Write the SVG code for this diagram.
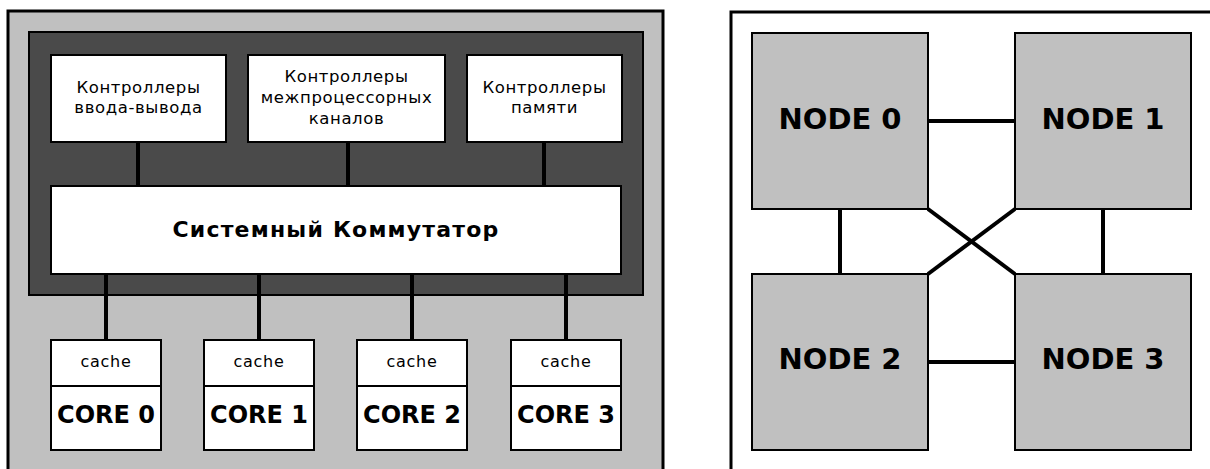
<svg xmlns="http://www.w3.org/2000/svg" width="1210" height="469" viewBox="0 0 1210 469">
<style>
.frame{stroke:#000;stroke-width:3}
.box{fill:#fff;stroke:#000;stroke-width:2}
.node{fill:#c0c0c0;stroke:#000;stroke-width:2}
.wire{stroke:#000;stroke-width:4;fill:none}
.t{font-family:"DejaVu Sans","Liberation Sans",sans-serif;fill:#000;text-anchor:middle}
.ctl{font-size:16.5px;letter-spacing:0.6px}
.cache{font-size:16px;letter-spacing:0.7px}
.core{font-size:24px;font-weight:bold}
.sw{font-size:22px;font-weight:bold;letter-spacing:1.2px}
.nd{font-size:29px;font-weight:bold}
</style>
<rect width="1210" height="469" fill="#fff"/>
<g id="left-panel">
<rect class="frame" x="8" y="11" width="655" height="470" fill="#c0c0c0"/>
<rect x="29" y="32" width="614" height="263" fill="#4a4a4a" stroke="#000" stroke-width="2"/>
</g>
<g id="connectors">
<line class="wire" x1="138" y1="142" x2="138" y2="187"/>
<line class="wire" x1="348" y1="142" x2="348" y2="187"/>
<line class="wire" x1="544" y1="142" x2="544" y2="187"/>
<line class="wire" x1="106" y1="273" x2="106" y2="340"/>
<line class="wire" x1="259" y1="273" x2="259" y2="340"/>
<line class="wire" x1="412" y1="273" x2="412" y2="340"/>
<line class="wire" x1="566" y1="273" x2="566" y2="340"/>
<line class="wire" x1="928" y1="121" x2="1015" y2="121"/>
<line class="wire" x1="928" y1="362" x2="1015" y2="362"/>
<line class="wire" x1="840" y1="209" x2="840" y2="274"/>
<line class="wire" x1="1103" y1="209" x2="1103" y2="274"/>
<line class="wire" x1="928" y1="209" x2="1015" y2="274"/>
<line class="wire" x1="1015" y1="209" x2="928" y2="274"/>
</g>
<g id="ctl-io">
<rect class="box" x="51" y="55" width="175" height="87"/>
<text class="t ctl" x="138.5" y="93">Контроллеры</text>
<text class="t ctl" x="138.5" y="113">ввода-вывода</text>
</g>
<g id="ctl-ipc">
<rect class="box" x="248" y="55" width="197" height="87"/>
<text class="t ctl" x="346.5" y="82">Контроллеры</text>
<text class="t ctl" x="346.5" y="103">межпроцессорных</text>
<text class="t ctl" x="346.5" y="124">каналов</text>
</g>
<g id="ctl-mem">
<rect class="box" x="467" y="55" width="155" height="87"/>
<text class="t ctl" x="544.5" y="93">Контроллеры</text>
<text class="t ctl" x="544.5" y="113">памяти</text>
</g>
<g id="switch">
<rect class="box" x="51" y="186" width="570" height="88"/>
<text class="t sw" x="336" y="237">Системный Коммутатор</text>
</g>
<g id="core0">
<rect class="box" x="51" y="340" width="110" height="110"/>
<line x1="51" y1="386" x2="161" y2="386" stroke="#000" stroke-width="2"/>
<text class="t cache" x="106" y="367">cache</text>
<text class="t core" x="106" y="423">CORE 0</text>
</g>
<g id="core1">
<rect class="box" x="204" y="340" width="110" height="110"/>
<line x1="204" y1="386" x2="314" y2="386" stroke="#000" stroke-width="2"/>
<text class="t cache" x="259" y="367">cache</text>
<text class="t core" x="259" y="423">CORE 1</text>
</g>
<g id="core2">
<rect class="box" x="357" y="340" width="110" height="110"/>
<line x1="357" y1="386" x2="467" y2="386" stroke="#000" stroke-width="2"/>
<text class="t cache" x="412" y="367">cache</text>
<text class="t core" x="412" y="423">CORE 2</text>
</g>
<g id="core3">
<rect class="box" x="511" y="340" width="110" height="110"/>
<line x1="511" y1="386" x2="621" y2="386" stroke="#000" stroke-width="2"/>
<text class="t cache" x="566" y="367">cache</text>
<text class="t core" x="566" y="423">CORE 3</text>
</g>
<g id="right-panel">
<rect class="frame" x="731" y="12" width="500" height="470" fill="none"/>
</g>
<g id="node0">
<rect class="node" x="752" y="33" width="176" height="176"/>
<text class="t nd" x="840" y="129">NODE 0</text>
</g>
<g id="node1">
<rect class="node" x="1015" y="33" width="176" height="176"/>
<text class="t nd" x="1103" y="129">NODE 1</text>
</g>
<g id="node2">
<rect class="node" x="752" y="274" width="176" height="176"/>
<text class="t nd" x="840" y="369">NODE 2</text>
</g>
<g id="node3">
<rect class="node" x="1015" y="274" width="176" height="176"/>
<text class="t nd" x="1103" y="369">NODE 3</text>
</g>
</svg>
